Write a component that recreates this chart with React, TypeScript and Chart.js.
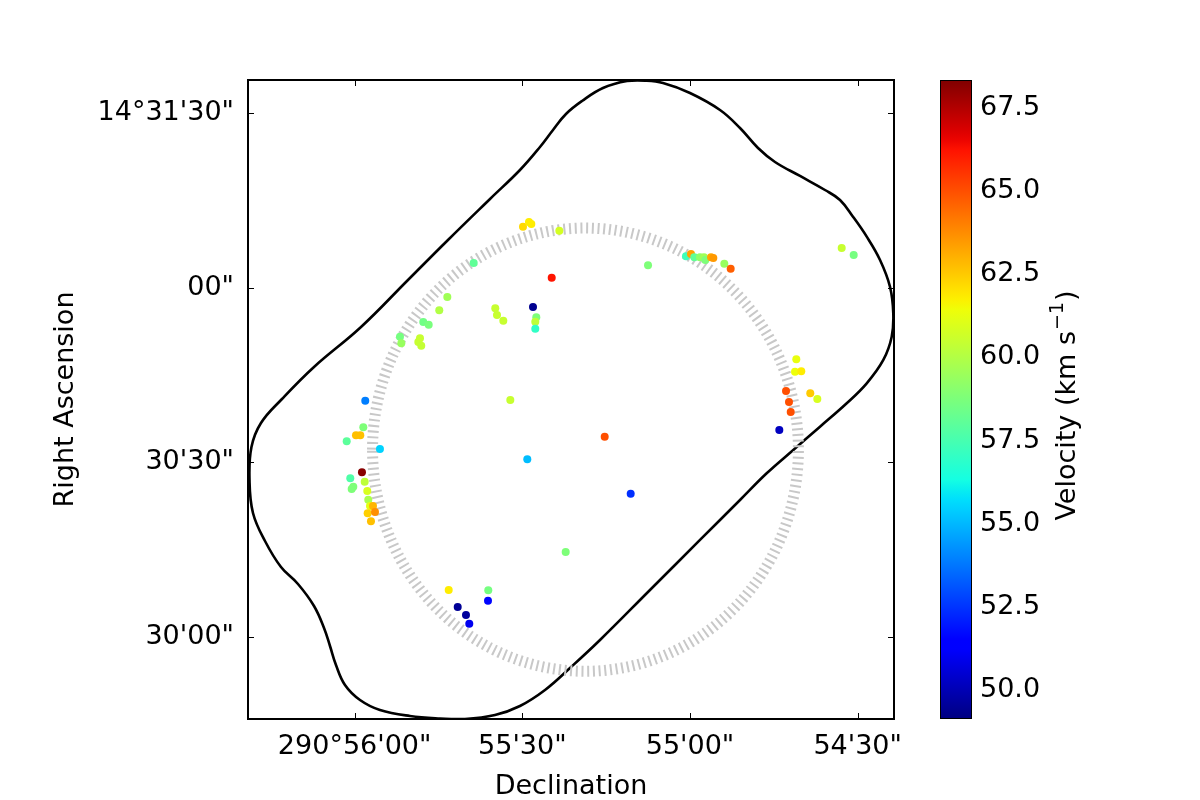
import { useEffect, useRef } from "react";
import { Chart, registerables } from "chart.js";

Chart.register(...registerables);

// Sky offsets in arcseconds: x from 290°55'00" (increasing to the left), y from 14°30'00".
const sourceX = [
  29.88, 28.81, 28.39, 23.38, 38.7, 24.74, 43.42, 28.09, 34.84, 34.53,
  27.5, 33.4, 27.68, 44.86, 47.72, 46.75, 27.68, 51.89, 51.65, 48.31,
  48.61, 48.08, 32.15, 58.1, 58.45, 59.76, 58.99, 61.42, 55.47, 29.11,
  58.69, 60.78, 58.2, 60.24, 60.53, 57.74, 57.56, 57.25, 56.72, 57.67,
  56.36, 57.08, 22.24, 43.17, 36.09, 36.14, 41.56, 40.08, 39.49, 7.51,
  0.72, -0.18, -0.77, -1.79, -2.5, -2.74, -3.76, -4.17, -6.14, -7.28,
  -27.14, -29.29, -19.02, -18.79, -19.91, -17.18, -21.52, -22.78, -17.71, -18.02,
  -15.98, 15.26, 10.61,
];
const sourceY = [
  70.53, 71.34, 71.0, 69.85, 64.29, 61.77, 58.45, 56.73, 56.51, 55.35,
  54.96, 54.38, 54.2, 56.16, 54.15, 53.69, 53.0, 51.62, 50.49, 51.35,
  50.71, 50.08, 40.74, 40.62, 36.05, 34.67, 34.67, 33.64, 32.32, 30.55,
  28.31, 27.28, 26.7, 25.84, 25.44, 25.1, 23.6, 22.52, 22.52, 21.27,
  21.49, 19.89, 14.61, 8.08, 8.03, 6.24, 5.16, 3.78, 2.29, 63.9,
  65.45, 65.84, 65.27, 65.27, 65.27, 64.81, 65.27, 65.15, 64.17, 63.31,
  66.87, 65.67, 47.74, 45.61, 45.68, 42.29, 41.89, 40.91, 40.4, 38.68,
  35.59, 34.43, 24.63,
];
const sourceVelocity = [
  62.2, 61.8, 61.8, 60.8, 58.1, 66.2, 59.6, 49.4, 60.5, 60.5,
  58.8, 60.5, 60.3, 60.0, 58.5, 58.7, 57.0, 58.6, 59.4, 60.5,
  60.5, 60.4, 60.5, 53.9, 58.8, 62.7, 62.7, 58.0, 55.5, 55.1,
  68.2, 57.7, 60.3, 58.8, 58.8, 60.9, 59.8, 61.2, 62.9, 62.4,
  63.7, 62.7, 58.8, 61.8, 58.6, 51.6, 49.5, 49.6, 51.0, 58.8,
  57.3, 63.3, 58.1, 59.2, 59.6, 58.8, 63.2, 63.5, 59.4, 64.7,
  60.5, 58.6, 61.3, 61.4, 61.8, 65.0, 62.5, 60.9, 65.0, 65.0,
  50.2, 65.0, 52.4,
];

// Mosaic coverage outline (closed, starting on the lower-right edge).
const outlineX = [
  -1.79, 7.16, 16.1, 21.47, 25.94, 30.42, 34.89, 40.26, 44.73, 50.1,
  55.47, 59.04, 61.73, 63.34, 64.41, 65.48, 67.27, 70.14, 73.18, 76.04,
  78.19, 78.81, 78.46, 76.76, 73.0, 67.27, 58.86, 50.46, 43.3, 35.78,
  30.42, 26.84, 24.51, 22.19, 19.32, 15.57, 11.27, 8.05, 4.83, 0,
  -5.37, -8.95, -12.17, -15.21, -19.68, -24.15, -26.84, -29.16, -31.62, -34.0,
  -35.78, -36.37, -36.09, -34.59, -31.62, -28.04, -23.26, -18.48, -13.72, -8.95,
  -1.79,
];
const outlineY = [
  16.68, 8.08, -0.52, -5.33, -9.11, -11.86, -13.41, -14.1, -14.01, -13.58,
  -12.55, -10.83, -8.25, -4.81, -1.55, 1.55, 5.33, 9.11, 12.03, 16.5,
  21.32, 26.99, 32.66, 36.79, 40.91, 46.42, 53.29, 61.37, 68.25, 75.3,
  80.28, 84.24, 87.16, 89.91, 92.14, 94.38, 95.58, 95.65, 95.24, 93.52,
  90.6, 87.5, 84.06, 81.66, 79.25, 76.84, 75.12, 72.25, 68.82, 64.81,
  60.22, 55.65, 51.62, 47.62, 43.61, 40.18, 36.15, 32.15, 28.14, 23.55,
  16.68,
];

// Primary beam circle.
const beamCenterX = 18.7;
const beamCenterY = 32.2;
const beamRadius = 38.1;
const beamSegments = 240;

const xTickValues = [60, 30, 0, -30];
const xTickLabels = ["290°56'00\"", "55'30\"", "55'00\"", "54'30\""];
const yTickValues = [90, 60, 30, 0];
const yTickLabels = ["14°31'30\"", "00\"", "30'30\"", "30'00\""];

const velocityTicks = [50, 52.5, 55, 57.5, 60, 62.5, 65, 67.5];
const velocityMin = 49.13;
const velocityMax = 68.34;

const xMin = -36.5;
const xMax = 79.08;
const yMin = -14.1;
const yMax = 95.75;

const FONT_FAMILY = "'DejaVu Sans', 'Liberation Sans', sans-serif";
const FONT_SIZE = 27;

// matplotlib "jet" segment data
const JET_R: [number, number][] = [[0, 0], [0.35, 0], [0.66, 1], [0.89, 1], [1, 0.5]];
const JET_G: [number, number][] = [[0, 0], [0.125, 0], [0.375, 1], [0.64, 1], [0.91, 0], [1, 0]];
const JET_B: [number, number][] = [[0, 0.5], [0.11, 1], [0.34, 1], [0.65, 0], [1, 0]];

function segInterp(seg: [number, number][], t: number): number {
  if (t <= seg[0][0]) return seg[0][1];
  for (let i = 1; i < seg.length; i++) {
    const [x1, y1] = seg[i];
    const [x0, y0] = seg[i - 1];
    if (t <= x1) return y0 + ((y1 - y0) * (t - x0)) / (x1 - x0);
  }
  return seg[seg.length - 1][1];
}

function jet(t: number): string {
  const c = Math.min(1, Math.max(0, t));
  const r = Math.round(segInterp(JET_R, c) * 255);
  const g = Math.round(segInterp(JET_G, c) * 255);
  const b = Math.round(segInterp(JET_B, c) * 255);
  return `rgb(${r},${g},${b})`;
}

function velocityColor(v: number): string {
  return jet((v - velocityMin) / (velocityMax - velocityMin));
}

const tickFont = { family: FONT_FAMILY, size: FONT_SIZE };
const titleFont = { family: FONT_FAMILY, size: FONT_SIZE, lineHeight: 1 };

// Frame and inward tick marks on all four sides of the map.
const framePlugin = {
  id: "mapFrame",
  afterDatasetsDraw(chart: any) {
    const { ctx, chartArea: a, scales } = chart;
    const len = 6;
    ctx.save();
    ctx.strokeStyle = "#000";
    ctx.lineWidth = 1;
    ctx.beginPath();
    for (const v of xTickValues) {
      const px = Math.round(scales.x.getPixelForValue(v)) + 0.5;
      ctx.moveTo(px, a.bottom);
      ctx.lineTo(px, a.bottom - len);
      ctx.moveTo(px, a.top);
      ctx.lineTo(px, a.top + len);
    }
    for (const v of yTickValues) {
      const py = Math.round(scales.y.getPixelForValue(v)) + 0.5;
      ctx.moveTo(a.left, py);
      ctx.lineTo(a.left + len, py);
      ctx.moveTo(a.right, py);
      ctx.lineTo(a.right - len, py);
    }
    ctx.stroke();
    ctx.lineWidth = 2;
    ctx.strokeRect(a.left, a.top, a.right - a.left, a.bottom - a.top);
    ctx.restore();
  },
};

// Colorbar outline and its rotated label, with a raised "−1" exponent.
const colorbarPlugin = {
  id: "colorbarDecor",
  afterDraw(chart: any) {
    const { ctx, chartArea: a } = chart;
    ctx.save();
    ctx.strokeStyle = "#000";
    ctx.lineWidth = 1;
    ctx.strokeRect(a.left + 0.5, a.top + 0.5, a.right - a.left - 1, a.bottom - a.top - 1);
    ctx.translate(1065, (a.top + a.bottom) / 2 + 6);
    ctx.rotate(-Math.PI / 2);
    ctx.fillStyle = "#000";
    ctx.textAlign = "left";
    ctx.textBaseline = "alphabetic";
    const mainFont = `${FONT_SIZE}px ${FONT_FAMILY}`;
    const supFont = `${Math.round(FONT_SIZE * 0.7)}px ${FONT_FAMILY}`;
    const head = "Velocity (km s";
    const sup = "\u22121";
    const tail = ")";
    ctx.font = mainFont;
    const wHead = ctx.measureText(head).width;
    const wTail = ctx.measureText(tail).width;
    ctx.font = supFont;
    const wSup = ctx.measureText(sup).width;
    const total = wHead + wSup + wTail + 2;
    const base = 9.5;
    let x = -total / 2;
    ctx.font = mainFont;
    ctx.fillText(head, x, base);
    x += wHead + 1;
    ctx.font = supFont;
    ctx.fillText(sup, x, base - 12);
    x += wSup + 1;
    ctx.font = mainFont;
    ctx.fillText(tail, x, base);
    ctx.restore();
  },
};

export default function App() {
  const mapRef = useRef<HTMLCanvasElement | null>(null);
  const barRef = useRef<HTMLCanvasElement | null>(null);

  useEffect(() => {
    if (!mapRef.current || !barRef.current) return;

    const beamX: number[] = [];
    const beamY: number[] = [];
    for (let i = 0; i <= beamSegments; i++) {
      const a = (i / beamSegments) * Math.PI * 2;
      beamX.push(beamCenterX + beamRadius * Math.cos(a));
      beamY.push(beamCenterY + beamRadius * Math.sin(a));
    }

    const map = new Chart(mapRef.current, {
      type: "scatter",
      data: {
        datasets: [
          {
            label: "sources",
            data: sourceX.map((x, i) => ({ x, y: sourceY[i] })),
            pointRadius: 4,
            pointBorderWidth: 0,
            pointBackgroundColor: sourceVelocity.map(velocityColor),
            pointBorderColor: sourceVelocity.map(velocityColor),
            showLine: false,
            order: 0,
          },
          {
            label: "beam",
            data: beamX.map((x, i) => ({ x, y: beamY[i] })),
            showLine: true,
            pointRadius: 0,
            borderColor: "#c8c8c8",
            borderWidth: 11,
            borderDash: [2, 3.7],
            borderCapStyle: "butt",
            tension: 0,
            order: 1,
          },
          {
            label: "coverage",
            data: outlineX.map((x, i) => ({ x, y: outlineY[i] })),
            showLine: true,
            pointRadius: 0,
            borderColor: "#000",
            borderWidth: 2.6,
            tension: 0.4,
            order: 2,
          },
        ] as any,
      },
      options: {
        animation: false,
        responsive: false,
        devicePixelRatio: 1,
        events: [],
        layout: { padding: { left: 0, top: 80, right: 306, bottom: 0 } },
        plugins: { legend: { display: false }, tooltip: { enabled: false } },
        scales: {
          x: {
            type: "linear",
            reverse: true,
            min: xMin,
            max: xMax,
            afterBuildTicks: (s: any) => {
              s.ticks = xTickValues.map((value) => ({ value }));
            },
            afterFit: (s: any) => {
              s.height = 81;
            },
            grid: { display: false, drawTicks: false },
            border: { display: false },
            ticks: {
              padding: 12,
              font: tickFont,
              color: "#000",
              autoSkip: false,
              maxRotation: 0,
              callback: (v: any) => xTickLabels[xTickValues.indexOf(Number(v))],
            },
            title: {
              display: true,
              text: "Declination",
              font: titleFont,
              color: "#000",
              padding: { top: 0, bottom: 0 },
            },
          },
          y: {
            type: "linear",
            min: yMin,
            max: yMax,
            afterBuildTicks: (s: any) => {
              s.ticks = yTickValues.map((value) => ({ value }));
            },
            afterFit: (s: any) => {
              s.width = 248;
            },
            grid: { display: false, drawTicks: false },
            border: { display: false },
            ticks: {
              padding: 14,
              font: tickFont,
              color: "#000",
              autoSkip: false,
              callback: (v: any) => yTickLabels[yTickValues.indexOf(Number(v))],
            },
            title: {
              display: true,
              text: "Right Ascension",
              font: titleFont,
              color: "#000",
              padding: { top: 52, bottom: 0 },
            },
          },
        },
      } as any,
      plugins: [framePlugin],
    });

    const bar = new Chart(barRef.current, {
      type: "bar",
      data: {
        labels: ["velocity"],
        datasets: [
          {
            data: [[velocityMin, velocityMax]],
            barPercentage: 1,
            categoryPercentage: 1,
            borderWidth: 0,
            backgroundColor: (c: any) => {
              const { ctx, chartArea } = c.chart;
              if (!chartArea) return "transparent";
              const g = ctx.createLinearGradient(0, chartArea.bottom, 0, chartArea.top);
              const n = 64;
              for (let i = 0; i <= n; i++) g.addColorStop(i / n, jet(i / n));
              return g;
            },
          },
        ] as any,
      },
      options: {
        animation: false,
        responsive: false,
        devicePixelRatio: 1,
        events: [],
        layout: { padding: { left: 940, top: 80, right: 0, bottom: 81 } },
        plugins: { legend: { display: false }, tooltip: { enabled: false } },
        scales: {
          x: { display: false },
          y: {
            position: "right",
            min: velocityMin,
            max: velocityMax,
            afterBuildTicks: (s: any) => {
              s.ticks = velocityTicks.map((value) => ({ value }));
            },
            afterFit: (s: any) => {
              s.width = 228;
            },
            grid: { display: false, drawTicks: false },
            border: { display: false },
            ticks: {
              padding: 8,
              font: tickFont,
              color: "#000",
              autoSkip: false,
              callback: (v: any) => Number(v).toFixed(1),
            },
          },
        },
      } as any,
      plugins: [colorbarPlugin],
    });

    return () => {
      map.destroy();
      bar.destroy();
    };
  }, []);

  return (
    <div style={{ position: "fixed", left: 0, top: 0, width: 1200, height: 800, background: "#fff" }}>
      <canvas
        ref={mapRef}
        width={1200}
        height={800}
        style={{ position: "absolute", left: 0, top: 0, width: 1200, height: 800 }}
      />
      <canvas
        ref={barRef}
        width={1200}
        height={800}
        style={{ position: "absolute", left: 0, top: 0, width: 1200, height: 800 }}
      />
    </div>
  );
}
